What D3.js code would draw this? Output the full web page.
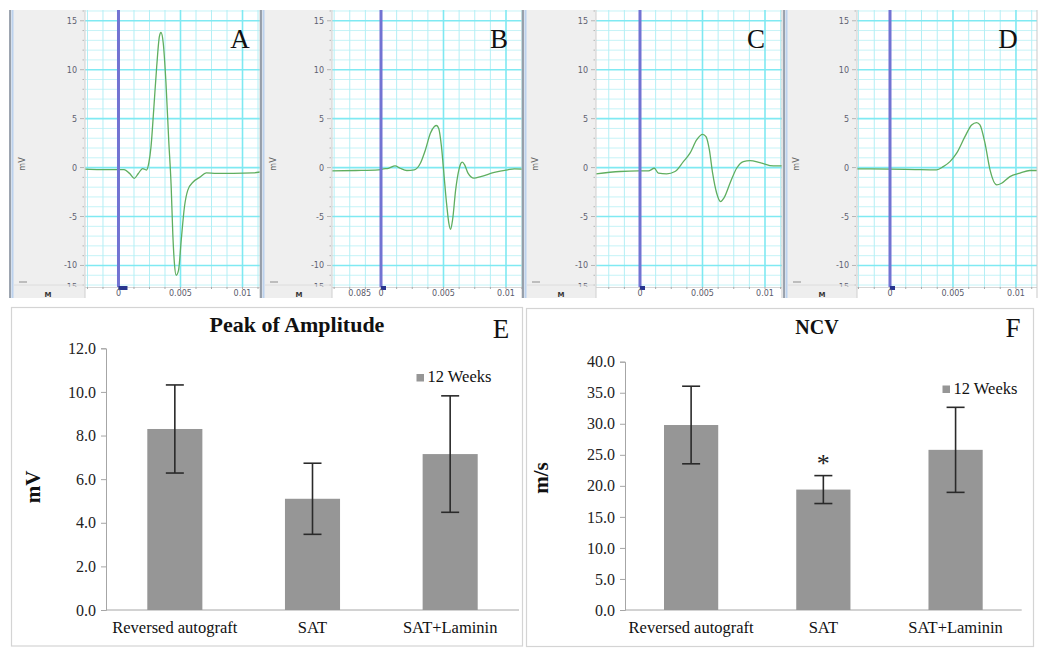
<!DOCTYPE html>
<html>
<head>
<meta charset="utf-8">
<script src="https://cdn.jsdelivr.net/npm/d3@7"></script>
<style>
  body { margin: 0; background: #fff; }
  svg { display: block; }
</style>
</head>
<body>
<div id="chart"></div>
<script>
// ---- waveform data (time in ms, amplitude in mV) ----
var tA = [-2.7, -1.5, 0, 0.45, 0.9, 1.27, 1.6, 1.95, 2.25, 2.45, 2.62, 2.84, 3.08, 3.3, 3.43, 3.61, 3.83, 4.05, 4.25, 4.38, 4.51, 4.65, 4.84, 5.06, 5.32, 5.59, 6.0, 6.54, 7.08, 7.9, 9.25, 10.86, 11.41];
var vA = [-0.15, -0.2, -0.2, -0.2, -0.6, -1.1, -0.6, -0.1, -0.25, 0.5, 2.1, 5.9, 10.3, 13.4, 13.8, 12.7, 8.6, 2.8, -2.0, -6.8, -9.8, -11.0, -10.5, -7.4, -4.0, -2.3, -1.5, -1.0, -0.55, -0.6, -0.6, -0.55, -0.45];

var tB = [-3.92, -2, -0.2, 0.19, 0.59, 1.13, 1.53, 2.07, 2.66, 3.15, 3.55, 3.95, 4.27, 4.44, 4.62, 4.84, 5.03, 5.24, 5.43, 5.56, 5.73, 5.97, 6.23, 6.37, 6.5, 6.69, 6.96, 7.44, 7.98, 9.06, 10.13, 10.67, 11.28];
var vB = [-0.34, -0.3, -0.23, -0.13, -0.07, 0.17, -0.07, -0.3, -0.23, 0.45, 1.8, 3.5, 4.2, 4.3, 4.0, 2.1, -0.6, -3.6, -5.7, -6.3, -5.3, -2.3, -0.23, 0.38, 0.55, 0.28, -0.57, -1.08, -0.92, -0.5, -0.23, -0.13, -0.16];

var tC = [-3.52, -1.6, -0.13, 0.67, 1.15, 1.47, 2.13, 2.8, 3.47, 4.0, 4.53, 5.01, 5.28, 5.55, 5.81, 6.13, 6.45, 6.72, 7.2, 7.73, 8.27, 8.8, 9.6, 10.67, 11.36];
var vC = [-0.64, -0.4, -0.34, -0.34, -0.07, -0.57, -0.64, -0.4, 0.61, 1.47, 2.83, 3.4, 3.16, 1.8, -0.57, -2.6, -3.47, -3.1, -1.6, -0.07, 0.61, 0.71, 0.51, 0.17, 0.17];

var tD = [-2.62, 0, 2, 3.7, 4.23, 4.76, 5.29, 5.95, 6.48, 6.88, 7.14, 7.54, 7.94, 8.47, 8.86, 9.52, 10.32, 11.1, 11.67];
var vD = [-0.13, -0.15, -0.2, -0.23, 0.1, 0.61, 1.47, 3.16, 4.36, 4.6, 4.36, 2.49, -0.23, -1.77, -1.6, -0.92, -0.57, -0.3, -0.3];

var scopeYTicks = [15, 10, 5, 0, -5, -10];
var scopeXTicks = [0, 5, 10];          // ms, shown as seconds

// ---- bar chart data ----
var groups = ["Reversed autograft", "SAT", "SAT+Laminin"];
var ampMean = [8.3, 5.1, 7.15];
var ampSD = [2.02, 1.63, 2.67];
var ncvMean = [29.8, 19.4, 25.8];
var ncvSD = [6.25, 2.25, 6.85];
var seriesName = "12 Weeks";

var W = 1050, H = 652;
var svg = d3.select("#chart").append("svg").attr("width", W).attr("height", H);
svg.append("rect").attr("width", W).attr("height", H).attr("fill", "#fff");

var serif = "'Liberation Serif', 'Times New Roman', serif";
var sans = "'DejaVu Sans', sans-serif";

// ---- oscilloscope panels ----
var scopes = [
  {letter: "A", left: 10, plotL: 85, plotR: 260, dom: [-2.7, 11.41], t: tA, v: vA, letterX: 240},
  {letter: "B", left: 261, plotL: 332, plotR: 522, dom: [-3.92, 11.28], t: tB, v: vB, letterX: 499, extra: [{t: -1.7, label: "0.085"}]},
  {letter: "C", left: 523, plotL: 596, plotR: 782, dom: [-3.52, 11.36], t: tC, v: vC, letterX: 756},
  {letter: "D", left: 784, plotL: 857, plotR: 1037, dom: [-2.62, 11.67], t: tD, v: vD, letterX: 1008}
];

var scopeTop = 10, plotB = 287, scopeBot = 298;
var y = d3.scaleLinear().domain([-12.2, 16.1]).range([plotB, scopeTop]);

scopes.forEach(function(p, i) {
  var g = svg.append("g");
  var x = d3.scaleLinear().domain(p.dom).range([p.plotL, p.plotR]);

  // gray side area
  g.append("rect").attr("x", p.left).attr("y", scopeTop).attr("width", p.plotL - p.left).attr("height", scopeBot - scopeTop).attr("fill", "#efefef");
  g.append("line").attr("x1", p.left).attr("x2", p.left).attr("y1", scopeTop).attr("y2", scopeBot).attr("stroke", "#7d8796").attr("stroke-width", 1.5);
  g.append("line").attr("x1", p.left + 2.5).attr("x2", p.left + 2.5).attr("y1", scopeTop).attr("y2", scopeBot).attr("stroke", "#bcd2ee").attr("stroke-width", 2);

  // plot area
  g.append("rect").attr("x", p.plotL).attr("y", scopeTop).attr("width", p.plotR - p.plotL).attr("height", scopeBot - scopeTop).attr("fill", "#fff");

  var clipId = "clip" + i;
  svg.append("clipPath").attr("id", clipId).append("rect")
    .attr("x", p.plotL).attr("y", scopeTop).attr("width", p.plotR - p.plotL).attr("height", plotB - scopeTop);
  var pg = g.append("g").attr("clip-path", "url(#" + clipId + ")");

  // minor grid
  d3.range(-12, 17, 1).forEach(function(d) {
    if (d % 5 === 0) return;
    pg.append("line").attr("x1", p.plotL).attr("x2", p.plotR).attr("y1", y(d)).attr("y2", y(d)).attr("stroke", "#c6f3f7").attr("stroke-width", 1);
  });
  d3.range(-5, 13, 1.25).forEach(function(d) {
    var major = Math.abs(d % 5) < 1e-6;
    pg.append("line").attr("x1", x(d)).attr("x2", x(d)).attr("y1", scopeTop).attr("y2", plotB)
      .attr("stroke", major ? "#7fe9f2" : "#b4eff5").attr("stroke-width", major ? 1.6 : 1);
  });
  // major horizontal grid
  scopeYTicks.forEach(function(d) {
    pg.append("line").attr("x1", p.plotL).attr("x2", p.plotR).attr("y1", y(d)).attr("y2", y(d)).attr("stroke", "#7fe9f2").attr("stroke-width", 1.6);
  });

  // trace
  var pts = p.t.map(function(t, k) { return [t, p.v[k]]; });
  var line = d3.line().x(function(d) { return x(d[0]); }).y(function(d) { return y(d[1]); }).curve(d3.curveMonotoneX);
  pg.append("path").attr("d", line(pts)).attr("fill", "none").attr("stroke", "#5fae5f").attr("stroke-width", 1.3);

  // cursor line at t=0
  g.append("line").attr("x1", x(0)).attr("x2", x(0)).attr("y1", scopeTop).attr("y2", plotB).attr("stroke", "#7273d2").attr("stroke-width", 3);

  // bottom strip
  g.append("rect").attr("x", p.plotL).attr("y", plotB).attr("width", p.plotR - p.plotL).attr("height", scopeBot - plotB).attr("fill", "#fff");
  g.append("line").attr("x1", p.plotL).attr("x2", p.plotR).attr("y1", plotB + 0.5).attr("y2", plotB + 0.5).attr("stroke", "#d6d6d6");
  d3.range(-5, 13, 1.25).forEach(function(d) {
    if (x(d) < p.plotL || x(d) > p.plotR) return;
    g.append("line").attr("x1", x(d)).attr("x2", x(d)).attr("y1", plotB).attr("y2", plotB + 2).attr("stroke", "#aaa");
  });
  g.append("line").attr("x1", p.plotL).attr("x2", p.plotL).attr("y1", scopeTop).attr("y2", scopeBot).attr("stroke", "#cfcfcf");
  g.append("line").attr("x1", p.plotR).attr("x2", p.plotR).attr("y1", scopeTop).attr("y2", scopeBot).attr("stroke", "#c9c9c9");

  // flag marker
  g.append("rect").attr("x", x(0)).attr("y", plotB - 1).attr("width", i === 0 ? 9 : 5).attr("height", 4).attr("fill", "#27358f");

  // x tick labels
  var xl = scopeXTicks.map(function(d) { return {t: d, label: d === 0 ? "0" : String(d / 1000)}; }).concat(p.extra || []);
  g.selectAll(".xl").data(xl).enter().append("text")
    .attr("x", function(d) { return x(d.t); }).attr("y", 295.5)
    .attr("text-anchor", "middle").attr("font-family", sans).attr("font-size", 8).attr("fill", "#5a5a6a")
    .text(function(d) { return d.label; });

  // y ticks and labels
  d3.range(-12, 17, 1).forEach(function(d) {
    var major = d % 5 === 0;
    g.append("line").attr("x1", p.plotL - (major ? 5 : 2.5)).attr("x2", p.plotL - 1).attr("y1", y(d)).attr("y2", y(d)).attr("stroke", "#b5b5b5");
  });
  g.selectAll(".yl").data(scopeYTicks.concat([-15])).enter().append("text")
    .attr("x", p.plotL - 8).attr("y", function(d) { return d === -15 ? 290 : y(d) + 3; })
    .attr("text-anchor", "end").attr("font-family", sans).attr("font-size", 8).attr("fill", "#5f5f6f")
    .text(function(d) { return d; });

  // lower part of side area
  g.append("rect").attr("x", p.left + 4).attr("y", plotB - 0.5).attr("width", p.plotL - p.left - 5).attr("height", scopeBot - plotB + 0.5).attr("fill", "#eeeeee");
  g.append("line").attr("x1", p.left + 4).attr("x2", p.plotL - 1).attr("y1", plotB - 2).attr("y2", plotB - 2).attr("stroke", "#dcdcdc");
  g.append("rect").attr("x", p.left + 9).attr("y", plotB - 6).attr("width", 8).attr("height", 2).attr("fill", "#bdbdbd");
  g.append("text").attr("x", p.left + 38).attr("y", 297).attr("text-anchor", "middle")
    .attr("font-family", sans).attr("font-size", 7).attr("font-weight", "bold").attr("fill", "#333").text("M");

  // unit label
  g.append("text").attr("transform", "translate(" + (p.left + 15) + "," + 164 + ") rotate(-90)")
    .attr("text-anchor", "middle").attr("font-family", sans).attr("font-size", 8).attr("fill", "#666").text("mV");

  // panel letter
  g.append("text").attr("x", p.letterX).attr("y", 48).attr("text-anchor", "middle")
    .attr("font-family", serif).attr("font-size", 27).attr("fill", "#111").text(p.letter);
});

// ---- bar charts ----
function barChart(cfg) {
  var g = svg.append("g");
  g.append("rect").attr("x", cfg.box[0]).attr("y", cfg.box[1]).attr("width", cfg.box[2] - cfg.box[0]).attr("height", cfg.box[3] - cfg.box[1])
    .attr("fill", "#fff").attr("stroke", "#d4d4d4").attr("stroke-width", 1.2);

  var x = d3.scaleBand().domain(groups).range([cfg.plotL, cfg.plotR]).paddingInner(cfg.pad).paddingOuter(cfg.pad / 2);
  var yy = d3.scaleLinear().domain([0, cfg.yMax]).range([cfg.plotB, cfg.plotT]);

  var ticks = d3.range(0, cfg.yMax + 1e-9, cfg.step);
  var ax = g.append("g").attr("transform", "translate(" + cfg.plotL + ",0)")
    .call(d3.axisLeft(yy).tickValues(ticks).tickFormat(d3.format(".1f")).tickSize(5).tickPadding(5));
  ax.selectAll("path, line").attr("stroke", "#a6a6a6");
  ax.selectAll("text").attr("font-family", serif).attr("font-size", 16).attr("fill", "#222");

  g.append("line").attr("x1", cfg.plotL).attr("x2", cfg.plotR).attr("y1", cfg.plotB).attr("y2", cfg.plotB).attr("stroke", "#a6a6a6");

  var bw = x.bandwidth();
  g.selectAll(".bar").data(cfg.mean).enter().append("rect")
    .attr("x", function(d, i) { return x(groups[i]); })
    .attr("y", function(d) { return yy(d); })
    .attr("width", bw).attr("height", function(d) { return cfg.plotB - yy(d); })
    .attr("fill", "#969696");

  cfg.mean.forEach(function(m, i) {
    var cx = x(groups[i]) + bw / 2;
    var hi = yy(m + cfg.sd[i]), lo = yy(m - cfg.sd[i]);
    g.append("line").attr("x1", cx).attr("x2", cx).attr("y1", hi).attr("y2", lo).attr("stroke", "#2a2a2a").attr("stroke-width", 1.6);
    [hi, lo].forEach(function(yv) {
      g.append("line").attr("x1", cx - 9).attr("x2", cx + 9).attr("y1", yv).attr("y2", yv).attr("stroke", "#2a2a2a").attr("stroke-width", 1.6);
    });
    if (cfg.star && cfg.star[i]) {
      g.append("text").attr("x", cx).attr("y", hi - 4).attr("text-anchor", "middle")
        .attr("font-family", serif).attr("font-size", 26).attr("fill", "#222").text("*");
    }
  });

  g.selectAll(".cat").data(groups).enter().append("text")
    .attr("x", function(d) { return x(d) + bw / 2; }).attr("y", 633)
    .attr("text-anchor", "middle").attr("font-family", serif).attr("font-size", 16.5).attr("fill", "#111")
    .text(function(d) { return d; });

  g.append("text").attr("x", cfg.titleX).attr("y", cfg.titleY).attr("text-anchor", "middle")
    .attr("font-family", serif).attr("font-size", cfg.titleSize).attr("font-weight", "bold").attr("fill", "#111").text(cfg.title);
  g.append("text").attr("x", cfg.letterX).attr("y", cfg.letterY).attr("text-anchor", "middle")
    .attr("font-family", serif).attr("font-size", 27).attr("fill", "#111").text(cfg.letter);
  g.append("text").attr("transform", "translate(" + cfg.ylabX + "," + cfg.ylabY + ") rotate(-90)")
    .attr("text-anchor", "middle").attr("font-family", serif).attr("font-size", 21).attr("font-weight", "bold").attr("fill", "#111").text(cfg.ylab);

  g.append("rect").attr("x", cfg.legX).attr("y", cfg.legY).attr("width", 7.5).attr("height", 7.5).attr("fill", "#969696");
  g.append("text").attr("x", cfg.legX + 11).attr("y", cfg.legY + 8).attr("font-family", serif).attr("font-size", 16.5).attr("fill", "#111").text(seriesName);
}

barChart({
  box: [11.5, 307.5, 522.5, 646], plotL: 106, plotR: 519, plotT: 348.3, plotB: 610, pad: 0.6,
  yMax: 12, step: 2, mean: ampMean, sd: ampSD,
  title: "Peak of Amplitude", titleSize: 22, titleX: 297, titleY: 332, letter: "E", letterX: 501, letterY: 338,
  ylab: "mV", ylabX: 40, ylabY: 487, legX: 416.5, legY: 374
});

barChart({
  box: [526.5, 308.5, 1033.5, 646.5], plotL: 625, plotR: 1021.7, plotT: 361.7, plotB: 610, pad: 0.59,
  yMax: 40, step: 5, mean: ncvMean, sd: ncvSD, star: [false, true, false],
  title: "NCV", titleSize: 20, titleX: 817, titleY: 333.5, letter: "F", letterX: 1013, letterY: 337,
  ylab: "m/s", ylabX: 548, ylabY: 478, legX: 942.5, legY: 385.5
});
</script>
</body>
</html>
